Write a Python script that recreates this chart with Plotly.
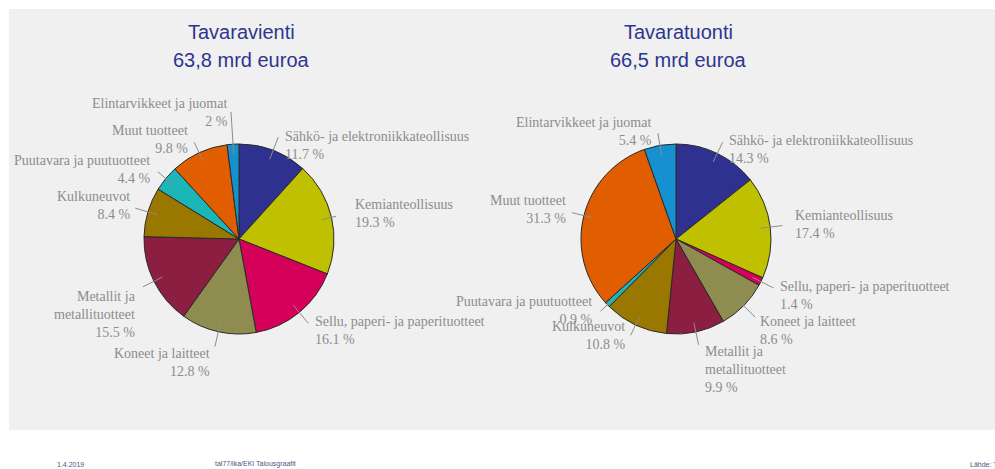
import math
import plotly.graph_objects as go

W, H = 995, 469

# Product groups, in clockwise order from 12 o'clock
categories = [
    "Sähkö- ja elektroniikkateollisuus",
    "Kemianteollisuus",
    "Sellu, paperi- ja paperituotteet",
    "Koneet ja laitteet",
    "Metallit ja<br>metallituotteet",
    "Kulkuneuvot",
    "Puutavara ja puutuotteet",
    "Muut tuotteet",
    "Elintarvikkeet ja juomat",
]
export_share = [11.7, 19.3, 16.1, 12.8, 15.5, 8.4, 4.4, 9.8, 2.0]
import_share = [14.3, 17.4, 1.4, 8.6, 9.9, 10.8, 0.9, 31.3, 5.4]

export_title = ["Tavaravienti", "63,8 mrd euroa"]
import_title = ["Tavaratuonti", "66,5 mrd euroa"]

footer_date = "1.4.2019"
footer_id = "tal77/ika/EKI Talousgraafit"
footer_source = "Lähde: Tulli"

slice_colors = ["#2E318F", "#BEC000", "#D5005A", "#8E8C4E", "#8C1E42",
                "#9A7800", "#1CB6B8", "#E15E00", "#1591CF"]

# Pie geometry (pixels)
RADIUS = 95
CENTERS = [(239, 239), (676, 239)]

# Label placement: (dx, dy) of the text anchor from pie centre, side, leader outer radius factor
export_labels = [
    (44, -94, "left", 1.15), (114, -26, "left", 1.05), (74, 91, "left", 1.15),
    (-27, 123, "right", 1.16), (-101, 75, "right", 1.13), (-107, -33, "right", 1.14),
    (-87, -70, "right", 1.11), (-49, -100, "right", 1.12), (-9, -126, "right", 1.34),
]
import_labels = [
    (51, -90, "left", 1.13), (117, -15, "left", 1.13), (102, 56, "left", 1.15),
    (82, 91, "left", 1.17), (27, 130, "left", 1.14), (-49, 96, "right", 1.12),
    (-82, 71, "right", 1.10), (-108, -29, "right", 1.13), (-22, -108, "right", 1.13),
]

LABEL_FONT = dict(family="Liberation Serif", size=14, color="#8C8C8C")
TITLE_FONT = dict(family="Liberation Sans", size=20, color="#2E3590")
FOOT_FONT = dict(family="Liberation Sans", size=7, color="#4A5578")


def px(x):
    return x / W


def py(y):
    return 1 - y / H


fig = go.Figure()
shapes = []
annotations = []

# Grey chart panel
shapes.append(dict(type="rect", xref="paper", yref="paper",
                   x0=px(9), x1=px(W), y0=py(430), y1=py(9),
                   fillcolor="#F0F0F0", line=dict(width=0), layer="below"))

for (cx, cy), values, labels, title in [
    (CENTERS[0], export_share, export_labels, export_title),
    (CENTERS[1], import_share, import_labels, import_title),
]:
    fig.add_trace(go.Pie(
        values=values, labels=categories, sort=False, direction="clockwise",
        rotation=0, textinfo="none", hoverinfo="skip", showlegend=False,
        marker=dict(colors=slice_colors, line=dict(color="#2A2A2A", width=1)),
        domain=dict(x=[px(cx - RADIUS), px(cx + RADIUS)],
                    y=[py(cy + RADIUS), py(cy - RADIUS)]),
    ))

    total = sum(values)
    cum = 0.0
    for name, v, (dx, dy, side, ro) in zip(categories, values, labels):
        mid = (cum + v / 2) / total * 2 * math.pi
        cum += v
        s, c = math.sin(mid), math.cos(mid)
        x0, y0 = cx + 0.9 * RADIUS * s, cy - 0.9 * RADIUS * c
        x1, y1 = cx + ro * RADIUS * s, cy - ro * RADIUS * c
        shapes.append(dict(type="line", xref="paper", yref="paper",
                           x0=px(x0), y0=py(y0), x1=px(x1), y1=py(y1),
                           line=dict(color="#8C8C8C", width=1)))
        annotations.append(dict(
            x=px(cx + dx), y=py(cy + dy), xref="paper", yref="paper",
            text=f"{name}<br>{v:g} %", showarrow=False,
            xanchor=side, yanchor="middle", align=side, font=LABEL_FONT,
        ))

    for line_text, ty in zip(title, (32, 60)):
        annotations.append(dict(x=px(cx + 2), y=py(ty), xref="paper", yref="paper",
                                text=line_text, showarrow=False,
                                xanchor="center", yanchor="middle", font=TITLE_FONT))

for text, fx in [(footer_date, 55), (footer_id, 213), (footer_source, 968)]:
    annotations.append(dict(x=px(fx), y=py(464), xref="paper", yref="paper",
                            text=text, showarrow=False, xanchor="left",
                            yanchor="middle", font=FOOT_FONT))

fig.update_layout(
    width=W, height=H,
    margin=dict(l=0, r=0, t=0, b=0),
    paper_bgcolor="white", plot_bgcolor="white",
    shapes=shapes, annotations=annotations,
)

fig.write_html("out.html", config={"displayModeBar": False})
